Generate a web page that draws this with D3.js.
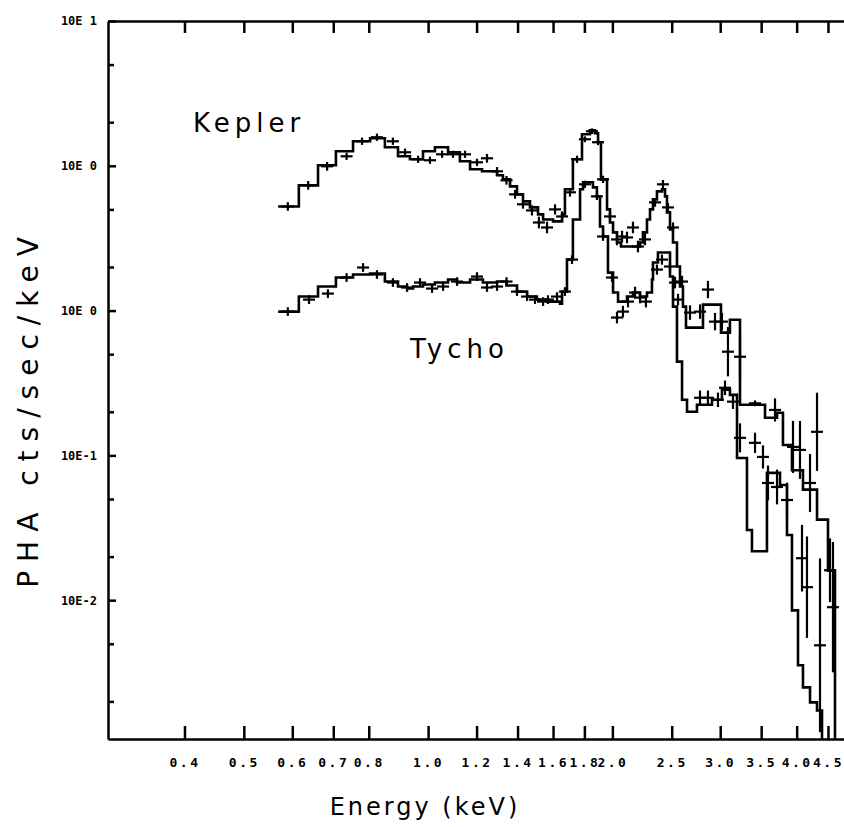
<!DOCTYPE html>
<html lang="en">
<head>
<meta charset="utf-8">
<title>Kepler and Tycho PHA spectra</title>
<script src="https://d3js.org/d3.v7.min.js"></script>
<style>
body { margin: 0; background: white; }
svg { display: block; }
.axis path, .axis line { stroke: black; stroke-width: 2.5; }
.axis text { font-family: "DejaVu Sans Mono", monospace; font-weight: bold; fill: black; }
.title { font-family: "DejaVu Sans", sans-serif; fill: black; }
</style>
</head>
<body>
<svg id="chart" width="844" height="827"></svg>
<script>
// energy axis (keV), ticks and their printed labels
var energyTicks = [0.4, 0.5, 0.6, 0.7, 0.8, 1.0, 1.2, 1.4, 1.6, 1.8, 2.0, 2.5, 3.0, 3.5, 4.0, 4.5];
var energyLabels = ["0.4", "0.5", "0.6", "0.7", "0.8", "1.0", "1.2", "1.4", "1.6", "1.8", "2.0", "2.5", "3.0", "3.5", "4.0", "4.5"];

// count axis, decades as printed on the plot
var rateTicks = [10, 1, 0.1, 0.01, 0.001];
var rateLabels = ["10E 1", "10E 0", "10E 0", "10E-1", "10E-2"];
var rateMinor = [5, 2, 0.5, 0.2, 0.05, 0.02, 0.005, 0.002, 0.0005, 0.0002];

// model histograms: left edge of each step (keV) and level
var keplerModelE = [0.569, 0.615, 0.661, 0.707, 0.754, 0.804, 0.850, 0.893, 0.934, 0.981, 1.026, 1.078, 1.127, 1.171, 1.225, 1.296, 1.325, 1.361, 1.397, 1.429, 1.467, 1.512, 1.541, 1.600, 1.655, 1.673, 1.724, 1.784, 1.838, 1.873, 1.895, 1.916, 1.960, 1.982, 2.005, 2.035, 2.066, 2.219, 2.244, 2.278, 2.304, 2.330, 2.365, 2.410, 2.438, 2.456, 2.484, 2.512, 2.550, 2.579, 2.608, 2.638, 2.812, 3.009, 3.112, 3.232, 3.551, 3.715, 3.799, 3.930, 4.096, 4.318, 4.500, 4.620];
var keplerModelV = [0.524, 0.733, 1.008, 1.26, 1.477, 1.55, 1.343, 1.163, 1.109, 1.26, 1.343, 1.24, 1.074, 0.946, 0.916, 0.86, 0.806, 0.721, 0.635, 0.568, 0.516, 0.462, 0.426, 0.413, 0.462, 0.688, 1.109, 1.652, 1.761, 1.679, 1.454, 0.806, 0.500, 0.406, 0.347, 0.295, 0.277, 0.295, 0.347, 0.426, 0.500, 0.586, 0.666, 0.688, 0.615, 0.477, 0.364, 0.295, 0.2016, 0.1466, 0.1066, 0.0763, 0.110, 0.0705, 0.0864, 0.0224, 0.0182, 0.0197, 0.0118, 0.0079, 0.0058, 0.0036, 0.0016, 0.00008];

var tychoModelE = [0.569, 0.615, 0.661, 0.707, 0.754, 0.804, 0.850, 0.893, 0.924, 0.945, 0.981, 1.026, 1.078, 1.115, 1.171, 1.229, 1.296, 1.343, 1.397, 1.451, 1.506, 1.564, 1.642, 1.655, 1.686, 1.724, 1.771, 1.791, 1.859, 1.887, 1.909, 1.931, 1.967, 2.005, 2.043, 2.113, 2.161, 2.219, 2.278, 2.321, 2.330, 2.374, 2.484, 2.512, 2.550, 2.599, 2.648, 2.749, 2.909, 3.020, 3.112, 3.196, 3.318, 3.381, 3.577, 3.757, 3.857, 3.930, 4.020, 4.096, 4.206, 4.318, 4.400];
var tychoModelV = [0.0984, 0.125, 0.1466, 0.1692, 0.1774, 0.1804, 0.1587, 0.1466, 0.142, 0.1466, 0.1513, 0.1562, 0.1638, 0.1562, 0.1638, 0.1562, 0.1587, 0.1489, 0.1353, 0.125, 0.1191, 0.1154, 0.1117, 0.1353, 0.225, 0.426, 0.688, 0.769, 0.710, 0.615, 0.381, 0.325, 0.183, 0.1332, 0.1154, 0.125, 0.1332, 0.125, 0.1332, 0.1638, 0.215, 0.252, 0.1718, 0.1066, 0.0444, 0.0242, 0.0200, 0.0224, 0.0242, 0.0284, 0.0262, 0.0096, 0.00305, 0.00218, 0.00757, 0.00625, 0.00282, 0.00085, 0.000355, 0.00025, 0.000197, 0.000173, 0.00008];

// measured points: energy, rate, error half-length in decades
var keplerPtE = [0.590, 0.637, 0.684, 0.736, 0.780, 0.825, 0.876, 0.917, 0.963, 1.007, 1.054, 1.098, 1.149, 1.202, 1.248, 1.296, 1.343, 1.387, 1.429, 1.478, 1.517, 1.564, 1.612, 1.655, 1.705, 1.751, 1.804, 1.852, 1.895, 1.931, 1.982, 2.035, 2.074, 2.113, 2.161, 2.202, 2.261, 2.348, 2.419, 2.465, 2.512, 2.599, 2.678, 2.781, 2.865, 2.942, 3.020, 3.089, 3.232, 3.420, 3.687, 3.945, 4.050, 4.206, 4.318, 4.534, 4.585];
var keplerPtV = [0.524, 0.733, 0.992, 1.163, 1.477, 1.575, 1.477, 1.24, 1.109, 1.092, 1.201, 1.201, 1.201, 1.057, 1.127, 0.916, 0.794, 0.635, 0.542, 0.492, 0.406, 0.375, 0.500, 0.447, 0.656, 1.109, 1.525, 1.733, 1.454, 0.806, 0.447, 0.310, 0.325, 0.320, 0.375, 0.277, 0.310, 0.559, 0.745, 0.516, 0.375, 0.1587, 0.0969, 0.0984, 0.1397, 0.0839, 0.0839, 0.052, 0.048, 0.0229, 0.0206, 0.01145, 0.01091, 0.00645, 0.01455, 0.00161, 0.000895];
var keplerPtErr = [0.03, 0.03, 0.03, 0.025, 0.025, 0.025, 0.025, 0.025, 0.025, 0.025, 0.025, 0.025, 0.025, 0.025, 0.03, 0.03, 0.03, 0.03, 0.03, 0.035, 0.04, 0.04, 0.035, 0.035, 0.03, 0.025, 0.02, 0.02, 0.02, 0.025, 0.03, 0.04, 0.04, 0.04, 0.04, 0.04, 0.04, 0.03, 0.03, 0.03, 0.035, 0.04, 0.05, 0.05, 0.06, 0.06, 0.06, 0.17, 0.16, 0.02, 0.08, 0.18, 0.2, 0.2, 0.27, 0.22, 0.45];

var tychoPtE = [0.590, 0.639, 0.686, 0.736, 0.783, 0.825, 0.876, 0.924, 0.970, 1.015, 1.058, 1.115, 1.202, 1.248, 1.296, 1.343, 1.397, 1.451, 1.495, 1.541, 1.570, 1.624, 1.673, 1.718, 1.804, 1.887, 1.931, 1.997, 2.035, 2.081, 2.121, 2.178, 2.219, 2.269, 2.365, 2.410, 2.484, 2.531, 2.560, 2.781, 2.865, 2.975, 3.055, 3.148, 3.232, 3.420, 3.524, 3.591, 3.715, 3.857, 4.081, 4.158, 4.367];
var tychoPtV = [0.0984, 0.1191, 0.1311, 0.1692, 0.1984, 0.1774, 0.1562, 0.1443, 0.1562, 0.142, 0.1466, 0.1587, 0.1718, 0.1443, 0.1466, 0.1587, 0.1353, 0.125, 0.1191, 0.1154, 0.1191, 0.125, 0.1353, 0.225, 0.745, 0.615, 0.325, 0.1692, 0.0895, 0.0984, 0.1154, 0.1332, 0.123, 0.1154, 0.192, 0.225, 0.2016, 0.1562, 0.1191, 0.025, 0.025, 0.0242, 0.0293, 0.0235, 0.01322, 0.01221, 0.00976, 0.00645, 0.00605, 0.00492, 0.00195, 0.00123, 0.000488];
var tychoPtErr = [0.03, 0.03, 0.03, 0.03, 0.03, 0.03, 0.03, 0.03, 0.03, 0.03, 0.03, 0.03, 0.03, 0.03, 0.03, 0.03, 0.03, 0.03, 0.03, 0.03, 0.03, 0.03, 0.03, 0.03, 0.025, 0.025, 0.03, 0.03, 0.04, 0.04, 0.04, 0.04, 0.04, 0.04, 0.035, 0.035, 0.035, 0.04, 0.04, 0.05, 0.05, 0.05, 0.05, 0.05, 0.1, 0.07, 0.08, 0.12, 0.12, 0.12, 0.23, 0.35, 0.6];

var svg = d3.select("#chart");
var plotLeft = 108, plotRight = 856, plotTop = 21, plotBottom = 739;

var x = d3.scaleLog().domain([0.3, 5.0]).range([plotLeft, plotRight]);
var y = d3.scaleLog().domain([1.1e-4, 10]).range([plotBottom, plotTop]);

svg.append("defs").append("clipPath").attr("id", "plotclip")
    .append("rect").attr("x", plotLeft).attr("y", plotTop)
    .attr("width", plotRight - plotLeft).attr("height", plotBottom - plotTop);

// axes, ticks pointing into the box
svg.append("g").attr("class", "axis")
    .attr("transform", "translate(0," + plotBottom + ")")
    .call(d3.axisBottom(x).tickValues(energyTicks).tickSize(-13).tickSizeOuter(0)
        .tickPadding(19).tickFormat(function(d, i) { return energyLabels[i]; }))
    .selectAll("text").style("font-size", "13px").style("letter-spacing", "2.5px");

svg.append("g").attr("class", "axis")
    .attr("transform", "translate(0," + plotTop + ")")
    .call(d3.axisTop(x).tickValues(energyTicks).tickSize(-12).tickSizeOuter(0).tickFormat(""));

svg.append("g").attr("class", "axis")
    .attr("transform", "translate(" + plotLeft + ",0)")
    .call(d3.axisLeft(y).tickValues(rateTicks).tickSize(-8).tickSizeOuter(0)
        .tickPadding(11).tickFormat(function(d, i) { return rateLabels[i]; }))
    .selectAll("text").style("font-size", "12px");

svg.append("g").attr("class", "axis")
    .attr("transform", "translate(" + plotLeft + ",0)")
    .call(d3.axisLeft(y).tickValues(rateMinor).tickSize(-6).tickSizeOuter(0).tickFormat(""))
    .select(".domain").remove();

// model step curves
var step = d3.line()
    .x(function(d) { return x(d[0]); })
    .y(function(d) { return y(d[1]); })
    .curve(d3.curveStepAfter);

var plot = svg.append("g").attr("clip-path", "url(#plotclip)");

[[keplerModelE, keplerModelV], [tychoModelE, tychoModelV]].forEach(function(m) {
    plot.append("path")
        .datum(d3.zip(m[0], m[1]))
        .attr("d", step)
        .attr("fill", "none")
        .attr("stroke", "black")
        .attr("stroke-width", 2.6)
        .attr("stroke-linejoin", "miter");
});

// data crosses
function crosses(E, V, err) {
    var pts = d3.zip(E, V, err);
    var g = plot.append("g").attr("stroke", "black").attr("stroke-width", 2.2);
    g.selectAll("line.v").data(pts).enter().append("line")
        .attr("x1", function(d) { return x(d[0]); })
        .attr("x2", function(d) { return x(d[0]); })
        .attr("y1", function(d) { return y(d[1] * Math.pow(10, d[2])); })
        .attr("y2", function(d) { return y(d[1] / Math.pow(10, d[2])); });
    g.selectAll("line.h").data(pts).enter().append("line")
        .attr("x1", function(d) { return x(d[0]) - 6; })
        .attr("x2", function(d) { return x(d[0]) + 6; })
        .attr("y1", function(d) { return y(d[1]); })
        .attr("y2", function(d) { return y(d[1]); });
}
crosses(keplerPtE, keplerPtV, keplerPtErr);
crosses(tychoPtE, tychoPtV, tychoPtErr);

// labels
svg.append("text").attr("class", "title")
    .attr("x", 193).attr("y", 132)
    .style("font-size", "26px").style("letter-spacing", "5px")
    .text("Kepler");
svg.append("text").attr("class", "title")
    .attr("x", 410).attr("y", 358)
    .style("font-size", "26px").style("letter-spacing", "5px")
    .text("Tycho");

svg.append("text").attr("class", "title")
    .attr("transform", "translate(38,408) rotate(-90)")
    .attr("text-anchor", "middle")
    .style("font-size", "28px").style("letter-spacing", "9px")
    .text("PHA cts/sec/keV");

svg.append("text").attr("class", "title")
    .attr("x", 425).attr("y", 815)
    .attr("text-anchor", "middle")
    .style("font-size", "24px").style("letter-spacing", "3px")
    .text("Energy (keV)");
</script>
</body>
</html>
